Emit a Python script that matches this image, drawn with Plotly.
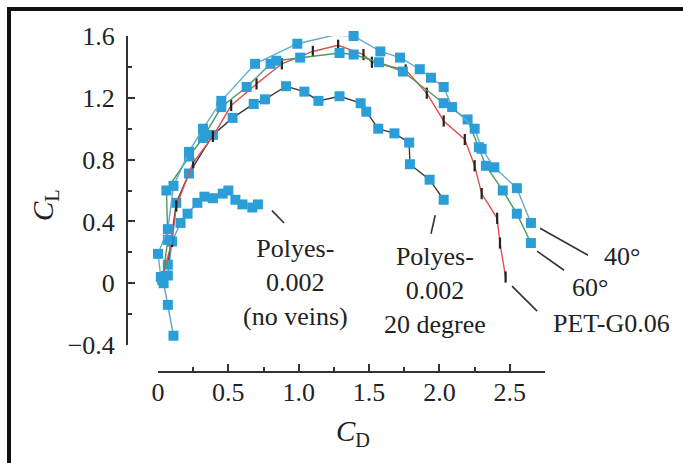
import plotly.graph_objects as go

# ---------------- data ----------------
cd_40 = [0.02, 0.00, 0.07, 0.11, 0.22, 0.32, 0.45, 0.69, 0.99, 1.25, 1.39, 1.58, 1.72, 1.86, 1.94, 2.03, 2.09, 2.25, 2.30, 2.39, 2.55, 2.65]
cl_40 = [0.04, 0.19, 0.35, 0.63, 0.85, 1.00, 1.18, 1.42, 1.55, 1.605, 1.60, 1.50, 1.46, 1.385, 1.33, 1.27, 1.14, 1.00, 0.87, 0.75, 0.615, 0.39]

cd_60 = [0.03, 0.07, 0.06, 0.22, 0.32, 0.45, 0.63, 0.80, 0.84, 1.01, 1.29, 1.39, 1.57, 1.74, 2.03, 2.20, 2.28, 2.33, 2.45, 2.55, 2.65]
cl_60 = [0.02, 0.28, 0.60, 0.82, 0.94, 1.14, 1.27, 1.42, 1.44, 1.46, 1.49, 1.48, 1.43, 1.37, 1.165, 1.06, 0.88, 0.76, 0.60, 0.45, 0.26]

cd_pet = [0.03, 0.10, 0.13, 0.25, 0.39, 0.52, 0.70, 0.88, 1.10, 1.28, 1.46, 1.52, 1.76, 1.91, 2.03, 2.18, 2.25, 2.30, 2.41, 2.43, 2.47]
cl_pet = [0.04, 0.27, 0.50, 0.78, 0.95, 1.15, 1.29, 1.42, 1.50, 1.54, 1.48, 1.43, 1.38, 1.23, 1.05, 0.93, 0.76, 0.58, 0.42, 0.26, 0.04]

cd_20 = [0.07, 0.13, 0.22, 0.39, 0.53, 0.68, 0.76, 0.91, 1.04, 1.14, 1.29, 1.44, 1.48, 1.565, 1.68, 1.785, 1.79, 1.93, 2.03]
cl_20 = [0.12, 0.52, 0.71, 0.96, 1.07, 1.16, 1.19, 1.275, 1.24, 1.18, 1.21, 1.165, 1.11, 1.00, 0.97, 0.91, 0.77, 0.67, 0.54]

cd_nv = [0.11, 0.07, 0.04, 0.07, 0.10, 0.16, 0.21, 0.28, 0.33, 0.39, 0.46, 0.50, 0.55, 0.60, 0.67, 0.71]
cl_nv = [-0.34, -0.14, 0.00, 0.05, 0.27, 0.39, 0.45, 0.52, 0.56, 0.55, 0.58, 0.60, 0.54, 0.51, 0.49, 0.51]

x_ticks = [0, 0.5, 1.0, 1.5, 2.0, 2.5]
x_ticktext = ["0", "0.5", "1.0", "1.5", "2.0", "2.5"]
x_minor = [0.25, 0.75, 1.25, 1.75, 2.25, 2.75]
y_ticks = [-0.4, 0, 0.4, 0.8, 1.2, 1.6]
y_ticktext = ["\u22120.4", "0", "0.4", "0.8", "1.2", "1.6"]
y_minor = [-0.2, 0.2, 0.6, 1.0, 1.4]

# ---------------- layout geometry ----------------
W, H = 683, 463
ML, MR, MT, MB = 127, 138, 36, 91
PW, PH = W - ML - MR, H - MT - MB
XR = [0, 2.75]
YR = [-0.4, 1.6]
XD0 = 31 / PW
YD0 = 27 / PH


def dx(v):  # data -> paper x
    return XD0 + (1 - XD0) * (v - XR[0]) / (XR[1] - XR[0])


def dy(v):  # data -> paper y
    return YD0 + (1 - YD0) * (v - YR[0]) / (YR[1] - YR[0])


def px(p):  # pixel -> paper x
    return (p - ML) / PW


def py(p):  # pixel -> paper y
    return (H - MB - p) / PH


FONT = "Liberation Serif"
SQ = "#2b9ed8"
FS = 26

fig = go.Figure()


def add(cd, cl, line_color, marker):
    fig.add_trace(go.Scatter(x=cd, y=cl, mode="lines+markers",
                             line=dict(color=line_color, width=1.4),
                             marker=marker, cliponaxis=False,
                             showlegend=False, hoverinfo="skip"))


sq_marker = dict(symbol="square", size=10, color=SQ, line=dict(width=0))
add(cd_nv, cl_nv, "#5aa7cf", sq_marker)
add(cd_20, cl_20, "#3a3a3a", sq_marker)
add(cd_pet, cl_pet, "#d9534f", dict(symbol="line-ns", size=8, color="#222",
                                    line=dict(width=2.2, color="#222")))
add(cd_60, cl_60, "#4a9a62", sq_marker)
add(cd_40, cl_40, "#66aac8", sq_marker)

fig.update_layout(
    width=W, height=H,
    margin=dict(l=ML, r=MR, t=MT, b=MB),
    paper_bgcolor="white", plot_bgcolor="white",
    font=dict(family=FONT, size=FS, color="#222"),
    xaxis=dict(domain=[XD0, 1], range=XR, anchor="free", position=0,
               showline=True, linecolor="#333", linewidth=2,
               ticks="inside", ticklen=7, tickwidth=2, tickcolor="#333",
               tickmode="array", tickvals=x_ticks, ticktext=x_ticktext,
               ticklabelstandoff=-3, tickfont=dict(size=FS),
               minor=dict(tickmode="array", tickvals=x_minor, ticks="inside",
                          ticklen=4, tickwidth=2, tickcolor="#333", showgrid=False),
               showgrid=False, zeroline=False),
    yaxis=dict(domain=[YD0, 1], range=YR, anchor="free", position=0,
               showline=True, linecolor="#333", linewidth=2,
               ticks="inside", ticklen=7, tickwidth=2, tickcolor="#333",
               tickmode="array", tickvals=y_ticks, ticktext=y_ticktext,
               ticklabelstandoff=6, tickfont=dict(size=FS),
               minor=dict(tickmode="array", tickvals=y_minor, ticks="inside",
                          ticklen=4, tickwidth=2, tickcolor="#333", showgrid=False),
               showgrid=False, zeroline=False),
)

# axis titles
fig.add_annotation(text="<i>C</i><sub>L</sub>", xref="paper", yref="paper",
                   x=px(45), y=py(205), showarrow=False, textangle=-90,
                   xanchor="center", yanchor="middle", font=dict(size=29))
fig.add_annotation(text="<i>C</i><sub>D</sub>", xref="paper", yref="paper",
                   x=px(353), y=py(433), showarrow=False,
                   xanchor="center", yanchor="middle", font=dict(size=29))

# labels
labels = [
    ("Polyes-<br>0.002<br>(no veins)", 0.98, 0.006),
    ("Polyes-<br>0.002<br>20 degree", 1.97, -0.05),
    ("40°", 3.30, 0.17),
    ("60°", 3.07, -0.026),
    ("PET-G0.06", 3.22, -0.26),
]
for t, x, y in labels:
    fig.add_annotation(text=t, xref="paper", yref="paper", x=dx(x), y=dy(y),
                       showarrow=False, align="center",
                       xanchor="center", yanchor="middle", font=dict(size=FS))

leaders = [
    (0.81, 0.47, 0.896, 0.39),
    (1.97, 0.44, 1.94, 0.32),
    (2.715, 0.356, 3.056, 0.181),
    (2.694, 0.207, 2.886, 0.084),
    (2.516, -0.019, 2.694, -0.181),
]
for x0, y0, x1, y1 in leaders:
    fig.add_shape(type="line", xref="paper", yref="paper",
                  x0=dx(x0), y0=dy(y0), x1=dx(x1), y1=dy(y1),
                  line=dict(color="#333", width=1.6))

# outer frame (top and left edges)
fig.add_shape(type="line", xref="paper", yref="paper",
              x0=px(9), y0=py(9), x1=px(690), y1=py(9),
              line=dict(color="#111", width=4))
fig.add_shape(type="line", xref="paper", yref="paper",
              x0=px(9), y0=py(7), x1=px(9), y1=py(470),
              line=dict(color="#111", width=4))

fig.write_html("out.html")
